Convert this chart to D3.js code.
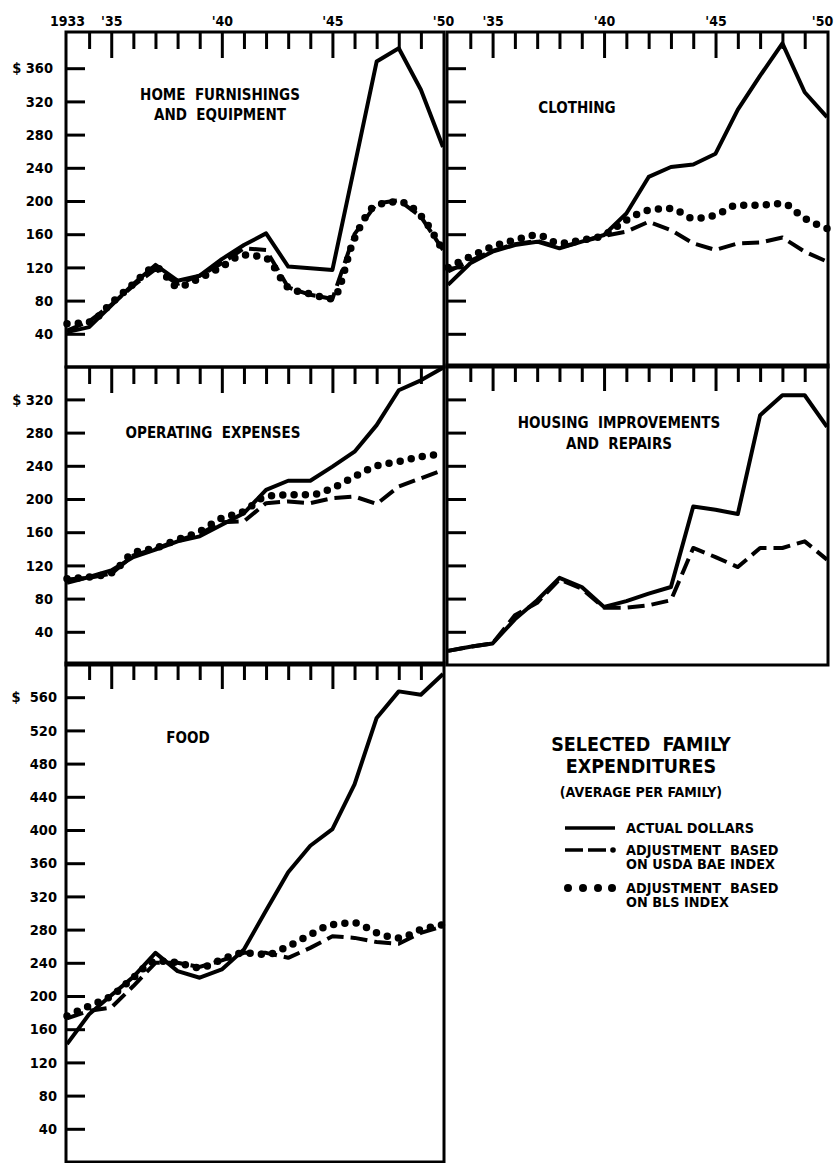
<!DOCTYPE html>
<html><head><meta charset="utf-8">
<script src="https://cdn.jsdelivr.net/npm/d3@7/dist/d3.min.js"></script>
<style>
html,body{margin:0;padding:0;background:#fff;}
svg{display:block;}
text{font-family:"DejaVu Sans Condensed","DejaVu Sans",sans-serif;font-weight:bold;fill:#000;}
</style></head><body>
<svg id="chart" width="834" height="1163"></svg>
<script>
// ---------- DATA ----------
const years = [1933,1934,1935,1936,1937,1938,1939,1940,1941,1942,1943,1944,1945,1946,1947,1948,1949,1950];
const yearLabelValuesLeft = [1933,1935,1940,1945,1950];
const yearLabelsLeft = ["1933","'35","'40","'45","'50"];
const yearLabelValuesRight = [1935,1940,1945,1950];
const yearLabelsRight = ["'35","'40","'45","'50"];
const majorYears = [1935,1940,1945];
const minorYears = [1934,1936,1937,1938,1939,1941,1942,1943,1944,1946,1947,1948,1949];

const ticksHome = [40,80,120,160,200,240,280,320,360];
const ticksOper = [40,80,120,160,200,240,280,320];
const ticksFood = [40,80,120,160,200,240,280,320,360,400,440,480,520,560];

const homeActual = [42,48,74,100,123,104,110,130,147,161,121,119,117,242,368,384,334,265];
const homeBAE    = [44,55,75,98,118,100,110,125,143,141,96,87,82,160,197,201,181,141];
const homeBLS    = [52,54,77,100,120,97,107,121,135,131,96,88,82,155,195,199,182,140];

const clothActual = [99,125,139,147,151,143,151,159,185,229,241,244,257,310,351,390,331,301];
const clothBAE    = [115,128,140,148,152,144,151,158,163,175,165,149,141,149,150,156,139,127];
const clothBLS    = [120,133,145,153,159,149,153,159,177,189,191,179,183,195,195,197,179,167];

const operActual = [99,106,114,130,139,149,155,169,183,211,222,222,239,257,289,331,343,358];
const operBAE    = [103,105,110,132,140,150,158,172,173,195,197,195,201,203,194,215,225,235];
const operBLS    = [104,106,111,135,141,151,161,177,185,203,205,205,213,227,240,245,251,254];

const housActual = [17,22,26,55,78,105,94,70,77,86,94,191,187,182,301,325,325,287];
const housBAE    = [17,22,26,60,75,103,92,69,69,72,78,141,130,118,141,141,149,127];

const foodActual = [142,178,201,223,252,230,222,232,256,303,349,381,401,455,535,567,563,588];
const foodBAE    = [173,182,186,212,240,240,235,243,252,252,246,258,272,270,265,263,276,284];
const foodBLS    = [176,188,200,222,242,240,234,244,252,250,260,274,286,288,276,270,280,286];

// ---------- LAYOUT ----------
const PX_PER_DOLLAR = 33.2/40;
const svg = d3.select("#chart");

const panels = [
  {title:["HOME  FURNISHINGS","AND  EQUIPMENT"], tx:220, ty:[100,120], x0:66, x1:444, y0:32, y1:367, ticks:ticksHome, labels:true, labelRight:53,
   yl:yearLabelValuesLeft, yt:yearLabelsLeft, actual:homeActual, bae:homeBAE, bls:homeBLS},
  {title:["CLOTHING"], tx:577, ty:[113], x0:447, x1:828, y0:32, y1:367, ticks:ticksHome, labels:false,
   yl:yearLabelValuesRight, yt:yearLabelsRight, actual:clothActual, bae:clothBAE, bls:clothBLS},
  {title:["OPERATING  EXPENSES"], tx:213, ty:[438], x0:66, x1:444, y0:367, y1:665, ticks:ticksOper, labels:true, labelRight:53,
   yl:null, actual:operActual, bae:operBAE, bls:operBLS},
  {title:["HOUSING  IMPROVEMENTS","AND  REPAIRS"], tx:619, ty:[428,449], x0:447, x1:828, y0:365, y1:665, ticks:ticksOper, labels:false,
   yl:null, actual:housActual, bae:housBAE, bls:null},
  {title:["FOOD"], tx:188, ty:[743], x0:66, x1:444, y0:663, y1:1162, ticks:ticksFood, labels:true, labelRight:57, dollarGap:"$  ",
   yl:null, actual:foodActual, bae:foodBAE, bls:foodBLS}
];

panels.forEach(p => {
  const g = svg.append("g");
  const x = d3.scaleLinear().domain([years[0], years[years.length-1]]).range([p.x0+1, p.x1-1]);
  const yMax = (p.y1 - p.y0) / PX_PER_DOLLAR;
  const y = d3.scaleLinear().domain([0, yMax]).range([p.y1, p.y0]);

  // minor / major top ticks
  const minorAx = d3.axisBottom(x).tickValues(minorYears).tickSize(17).tickFormat("");
  const majorAx = d3.axisBottom(x).tickValues(majorYears).tickSize(26).tickFormat("");
  [minorAx, majorAx].forEach(ax => {
    const a = g.append("g").attr("transform", `translate(0,${p.y0})`).call(ax);
    a.select(".domain").remove();
    a.selectAll("line").attr("stroke","#000").attr("stroke-width",3);
  });

  // year labels on top
  if (p.yl) {
    const ya = d3.axisTop(x).tickValues(p.yl).tickSize(0).tickPadding(6)
      .tickFormat((d,i) => p.yt[i]);
    const a = g.append("g").attr("transform", `translate(0,${p.y0})`).call(ya);
    a.select(".domain").remove();
    a.selectAll("text").attr("font-size",14).attr("font-family",null);
    if (p.x1 > 800) a.selectAll("text").filter(d => d === 1950).attr("dx",-5);
  }

  // y ticks
  const topTick = p.ticks[p.ticks.length-1];
  const yAx = d3.axisLeft(y).tickValues(p.ticks).tickSizeInner(-19).tickSizeOuter(0)
    .tickPadding(p.labels ? (p.x0 - p.labelRight) : 0)
    .tickFormat(d => !p.labels ? "" : (d === topTick ? (p.dollarGap || "$ ") + d : d));
  const ya = g.append("g").attr("transform", `translate(${p.x0},0)`).call(yAx);
  ya.select(".domain").remove();
  ya.selectAll("line").attr("stroke","#000").attr("stroke-width",3);
  ya.selectAll("text").attr("font-size",14.5).attr("font-family",null).style("white-space","pre");

  // lines
  const line = d3.line().x((d,i) => x(years[i])).y(d => y(d));
  const smooth = d3.line().x((d,i) => x(years[i])).y(d => y(d)).curve(d3.curveMonotoneX);
  if (p.bls) {
    g.append("path").datum(p.bls).attr("d", smooth).attr("fill","none").attr("stroke","#000")
      .attr("stroke-width",7.5).attr("stroke-linecap","round").attr("stroke-dasharray","0 11.3");
  }
  g.append("path").datum(p.bae).attr("d", line).attr("fill","none").attr("stroke","#000")
    .attr("stroke-width",4).attr("stroke-dasharray","17 7").attr("stroke-linejoin","round");
  g.append("path").datum(p.actual).attr("d", line).attr("fill","none").attr("stroke","#000")
    .attr("stroke-width",4).attr("stroke-linejoin","round");

  // frame
  g.append("rect").attr("x",p.x0).attr("y",p.y0).attr("width",p.x1-p.x0).attr("height",p.y1-p.y0)
    .attr("fill","none").attr("stroke","#000").attr("stroke-width",3);

  // title
  g.selectAll("text.title").data(p.title).enter().append("text").attr("class","title")
    .attr("x",p.tx).attr("y",(d,i)=>p.ty[i]).attr("text-anchor","middle")
    .attr("font-size",15).style("white-space","pre").text(d=>d);
});

// ---------- LEGEND ----------
const lg = svg.append("g");
lg.append("text").attr("x",641).attr("y",751).attr("text-anchor","middle").attr("font-size",19.5)
  .style("white-space","pre").text("SELECTED  FAMILY");
lg.append("text").attr("x",641).attr("y",773).attr("text-anchor","middle").attr("font-size",19.5)
  .text("EXPENDITURES");
lg.append("text").attr("x",641).attr("y",797).attr("text-anchor","middle").attr("font-size",14)
  .text("(AVERAGE PER FAMILY)");

const legendRows = [
  {lines:["ACTUAL DOLLARS"], y:833, sy:828, kind:"solid"},
  {lines:["ADJUSTMENT  BASED","ON USDA BAE INDEX"], y:855, sy:850, kind:"dash"},
  {lines:["ADJUSTMENT  BASED","ON BLS INDEX"], y:893, sy:888, kind:"dot"}
];
legendRows.forEach(r => {
  r.lines.forEach((t,i) => lg.append("text").attr("x",626).attr("y",r.y + i*14).attr("font-size",14.3)
    .style("white-space","pre").text(t));
  if (r.kind === "solid") {
    lg.append("line").attr("x1",565).attr("x2",615).attr("y1",r.sy).attr("y2",r.sy).attr("stroke","#000").attr("stroke-width",3.5);
  } else if (r.kind === "dash") {
    lg.append("line").attr("x1",565).attr("x2",606).attr("y1",r.sy).attr("y2",r.sy).attr("stroke","#000")
      .attr("stroke-width",3.5).attr("stroke-dasharray","18 5");
    lg.append("circle").attr("cx",613).attr("cy",r.sy).attr("r",2.8).attr("fill","#000");
  } else {
    [568,583,598,612].forEach(cx => lg.append("circle").attr("cx",cx).attr("cy",r.sy).attr("r",4).attr("fill","#000"));
  }
});
</script>
</body></html>
